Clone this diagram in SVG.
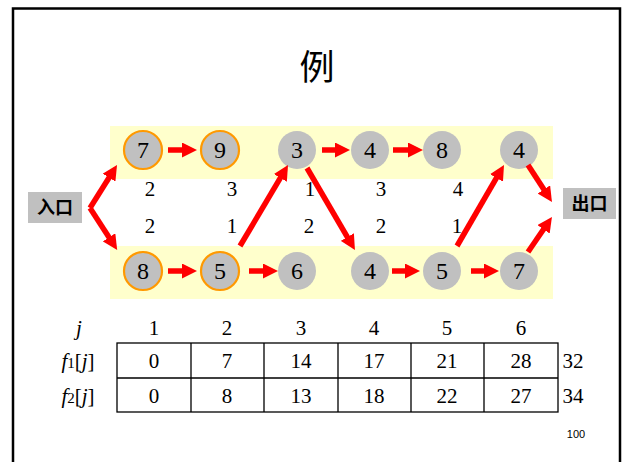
<svg xmlns="http://www.w3.org/2000/svg" width="622" height="462" viewBox="0 0 622 462">
<defs>
<style>
.band{fill:#FFFFCC}
.nd{fill:#C0C0C0}
.hl{stroke:#FF9900;stroke-width:2.2}
.nt{font-family:"Liberation Serif","Times New Roman",serif;font-size:24px;fill:#000;text-anchor:middle}
.w{font-family:"Liberation Serif","Times New Roman",serif;font-size:21px;fill:#000;text-anchor:middle}
.tt{font-family:"Liberation Serif","Times New Roman",serif;font-size:21px;fill:#000;text-anchor:middle}
.lb{font-family:"Noto Sans CJK SC","Noto Sans CJK JP",sans-serif;font-size:18px;font-weight:bold;fill:#000;text-anchor:middle}
.box{fill:#C0C0C0}
.ar{stroke:#FF0000;stroke-width:5.5;fill:none;marker-end:url(#ah)}
.tb{stroke:#000;stroke-width:1.3;fill:none}
</style>
<marker id="ah" markerUnits="userSpaceOnUse" markerWidth="15" markerHeight="15" refX="2" refY="7.5" orient="auto">
<path d="M0,0 L15,7.5 L0,15 z" fill="#FF0000"/>
</marker>
</defs>
<rect x="0" y="0" width="622" height="462" fill="#fff"/>
<path d="M13,462 V8.5 H620 V462" fill="none" stroke="#000" stroke-width="2.5"/>
<text x="317" y="80" font-family="'Noto Sans CJK SC','Noto Sans CJK JP',sans-serif" font-size="35" text-anchor="middle" fill="#000">例</text>
<rect class="band" x="110" y="126" width="443" height="53"/>
<rect class="band" x="110" y="246" width="443" height="53"/>
<g id="entry"><rect class="box" x="28" y="192" width="54" height="31"/><text class="lb" x="55" y="214">入口</text></g>
<g id="exit"><rect class="box" x="563" y="188" width="53" height="31"/><text class="lb" x="589.5" y="210">出口</text></g>
<g id="n11"><circle class="nd hl" cx="143" cy="150" r="19"/><text class="nt" x="143" y="158">7</text></g>
<g id="n12"><circle class="nd hl" cx="220" cy="150" r="19"/><text class="nt" x="220" y="158">9</text></g>
<g id="n13"><circle class="nd" cx="297" cy="150" r="19"/><text class="nt" x="297" y="158">3</text></g>
<g id="n14"><circle class="nd" cx="370" cy="150" r="19"/><text class="nt" x="370" y="158">4</text></g>
<g id="n15"><circle class="nd" cx="442" cy="150" r="19"/><text class="nt" x="442" y="158">8</text></g>
<g id="n16"><circle class="nd" cx="519" cy="150" r="19"/><text class="nt" x="519" y="158">4</text></g>
<g id="n21"><circle class="nd hl" cx="143" cy="271" r="19"/><text class="nt" x="143" y="279">8</text></g>
<g id="n22"><circle class="nd hl" cx="220" cy="271" r="19"/><text class="nt" x="220" y="279">5</text></g>
<g id="n23"><circle class="nd" cx="297" cy="271" r="19"/><text class="nt" x="297" y="279">6</text></g>
<g id="n24"><circle class="nd" cx="370" cy="271" r="19"/><text class="nt" x="370" y="279">4</text></g>
<g id="n25"><circle class="nd" cx="442" cy="271" r="19"/><text class="nt" x="442" y="279">5</text></g>
<g id="n26"><circle class="nd" cx="519" cy="271" r="19"/><text class="nt" x="519" y="279">7</text></g>
<g id="connectors">
<line class="ar" x1="90" y1="208" x2="110.1" y2="176"/>
<line class="ar" x1="90" y1="208" x2="110.1" y2="239"/>
<line class="ar" x1="168" y1="150" x2="184" y2="150"/>
<line class="ar" x1="322" y1="150" x2="337" y2="150"/>
<line class="ar" x1="393" y1="150" x2="410" y2="150"/>
<line class="ar" x1="168" y1="271" x2="184" y2="271"/>
<line class="ar" x1="249" y1="271" x2="265" y2="271"/>
<line class="ar" x1="392" y1="271" x2="407" y2="271"/>
<line class="ar" x1="471" y1="271" x2="486" y2="271"/>
<line class="ar" x1="240" y1="246" x2="281.4" y2="176.2"/>
<line class="ar" x1="307" y1="168" x2="348.4" y2="238.8"/>
<line class="ar" x1="457" y1="246" x2="497.5" y2="176.2"/>
<line class="ar" x1="528" y1="165" x2="544.9" y2="191.1"/>
<line class="ar" x1="528" y1="252" x2="544.6" y2="227.7"/>
</g>
<g id="weights">
<text class="w" x="150" y="196">2</text>
<text class="w" x="232" y="196">3</text>
<text class="w" x="310" y="196">1</text>
<text class="w" x="381" y="196">3</text>
<text class="w" x="458" y="196">4</text>
<text class="w" x="150" y="233">2</text>
<text class="w" x="232" y="233">1</text>
<text class="w" x="309" y="233">2</text>
<text class="w" x="381" y="233">2</text>
<text class="w" x="457" y="233">1</text>
</g>
<g id="table">
<text class="tt" x="79" y="335" font-style="italic">j</text>
<text class="tt" x="154" y="335">1</text>
<text class="tt" x="227" y="335">2</text>
<text class="tt" x="301" y="335">3</text>
<text class="tt" x="374" y="335">4</text>
<text class="tt" x="447" y="335">5</text>
<text class="tt" x="521" y="335">6</text>
<text class="tt" x="78" y="368"><tspan font-style="italic">f</tspan><tspan font-size="15">1</tspan>[<tspan font-style="italic">j</tspan>]</text>
<text class="tt" x="78" y="403"><tspan font-style="italic">f</tspan><tspan font-size="15">2</tspan>[<tspan font-style="italic">j</tspan>]</text>
<rect class="tb" x="117" y="343" width="441" height="69"/>
<path class="tb" d="M117,378 H558 M191,343 V412 M264,343 V412 M338,343 V412 M411,343 V412 M484,343 V412"/>
<text class="tt" x="154" y="368">0</text>
<text class="tt" x="227" y="368">7</text>
<text class="tt" x="301" y="368">14</text>
<text class="tt" x="374" y="368">17</text>
<text class="tt" x="447" y="368">21</text>
<text class="tt" x="521" y="368">28</text>
<text class="tt" x="154" y="403">0</text>
<text class="tt" x="227" y="403">8</text>
<text class="tt" x="301" y="403">13</text>
<text class="tt" x="374" y="403">18</text>
<text class="tt" x="447" y="403">22</text>
<text class="tt" x="521" y="403">27</text>
<text class="tt" x="573" y="368">32</text>
<text class="tt" x="573" y="403">34</text>
</g>
<text x="576" y="438" font-family="'Liberation Sans',Arial,sans-serif" font-size="11" text-anchor="middle" fill="#000">100</text>
</svg>
